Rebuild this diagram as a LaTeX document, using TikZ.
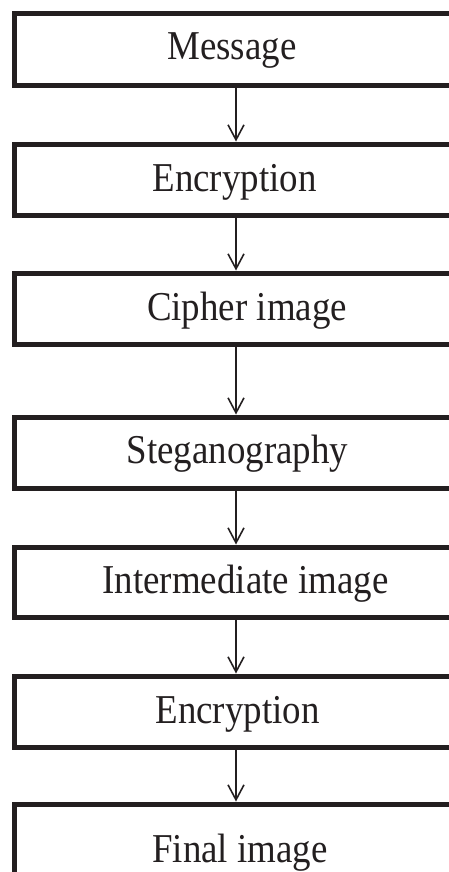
\documentclass[tikz,border=0pt]{standalone}
\usepackage{fontspec}
\setmainfont[FakeStretch=0.9]{Liberation Serif}
\usetikzlibrary{arrows.meta}
\definecolor{ink}{HTML}{231F20}
\begin{document}
\begin{tikzpicture}[x=1pt,y=-1pt,
  stagebox/.style={draw=ink,line width=5pt,rectangle,minimum width=444pt,inner sep=0pt},
  stagetext/.style={anchor=base,text=ink,font=\fontsize{41}{41}\selectfont,inner sep=0pt},
  flow/.style={draw=ink,line width=1.6pt,-{Straight Barb[length=15pt,width=16pt]}}]
\useasboundingbox (0,0) rectangle (449,872);
\clip (0,0) rectangle (449,872);
\node[stagebox,minimum height=71.5pt] (b1) at (236,49.75) {};
\node[stagebox,minimum height=71pt] (b2) at (236,179.5) {};
\node[stagebox,minimum height=71.5pt] (b3) at (236,308.75) {};
\node[stagebox,minimum height=71pt] (b4) at (236,452.5) {};
\node[stagebox,minimum height=70pt] (b5) at (236,582) {};
\node[stagebox,minimum height=71pt] (b6) at (236,711.5) {};
\node[stagebox,minimum height=96pt] (b7) at (236,852) {};
\node[stagetext] (t1) at (232,60) {Message};
\node[stagetext] (t2) at (234.5,191) {Encryption};
\node[stagetext] (t3) at (247,320.5) {Cipher image};
\node[stagetext] (t4) at (237.5,463) {Steganography};
\node[stagetext] (t5) at (245.5,593) {Intermediate image};
\node[stagetext] (t6) at (237.5,723) {Encryption};
\node[stagetext] (t7) at (240,862) {Final image};
\draw[flow] (b1) -- (b2);
\draw[flow] (b2) -- (b3);
\draw[flow] (b3) -- (b4);
\draw[flow] (b4) -- (b5);
\draw[flow] (b5) -- (b6);
\draw[flow] (b6) -- (b7);
\end{tikzpicture}
\end{document}
